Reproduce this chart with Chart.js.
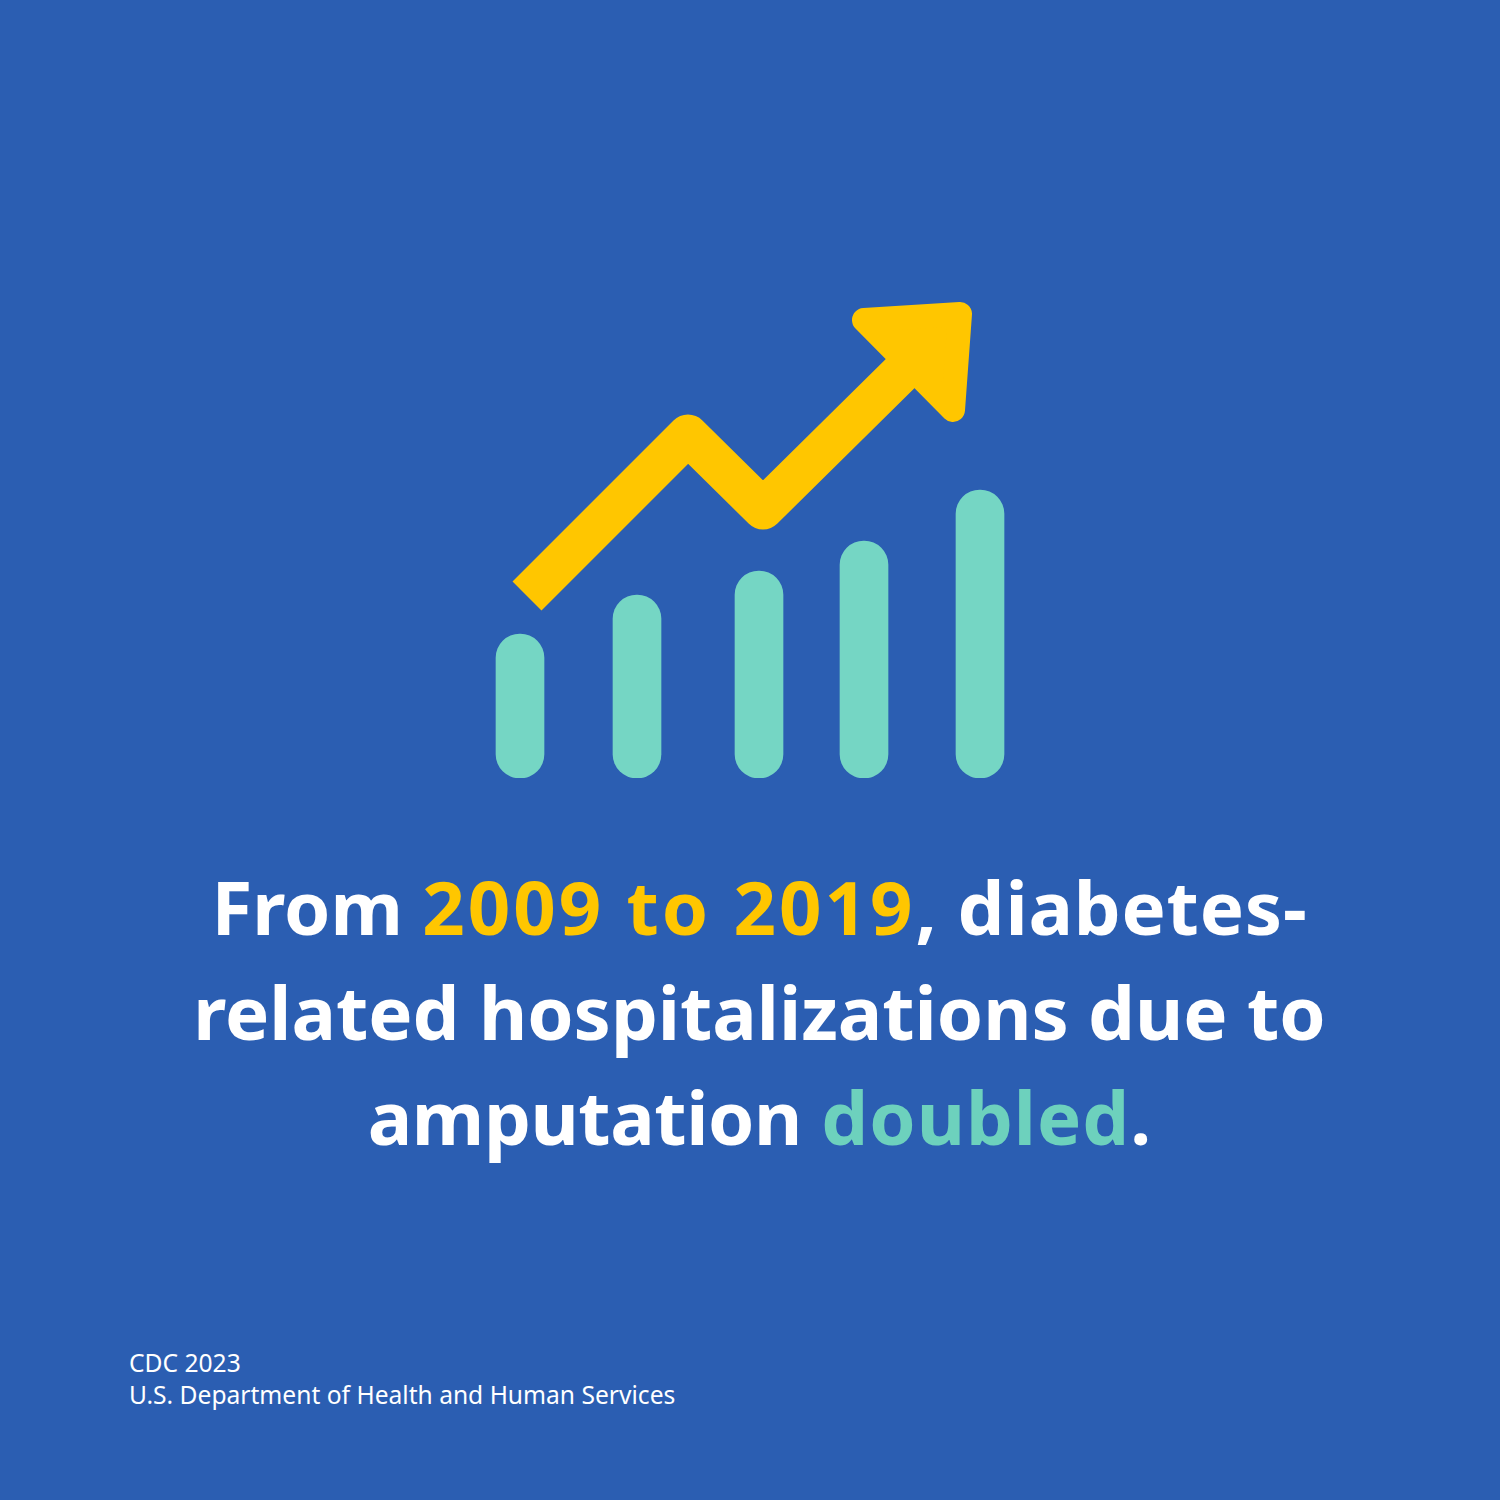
<!DOCTYPE html>
<html lang="en">
<head>
    <meta charset="UTF-8">
    <title>Diabetes-related hospitalizations</title>
    <style>
        html, body { margin: 0; padding: 0; background: #2b5eb2; }
        #page { position: relative; width: 1500px; height: 1500px; overflow: hidden; background: #2b5eb2; }
        #icon { position: absolute; left: 480px; top: 290px; width: 540px; height: 488px; }
        #headline {
            position: absolute; left: 0; top: 854px; width: 1519px; text-align: center;
            font: 700 74.3px/105px "Noto Sans", sans-serif; color: #fff; white-space: nowrap;
        }
        #source {
            position: absolute; left: 129px; top: 1347px;
            font: 400 24.6px/32px "Noto Sans", sans-serif; color: #fff; white-space: nowrap;
        }
        .yellow { color: #ffc600; letter-spacing: 3px; }
        .wide { letter-spacing: 0.8px; }
        .tight { letter-spacing: -0.4px; }
        .teal { color: #6dd1bd; letter-spacing: 1px; }
    </style>
</head>
<body>
<script src="https://cdn.jsdelivr.net/npm/chart.js"></script>
<div id="page">
    <div id="icon"><canvas id="chart"></canvas></div>
    <div id="headline">
        From <span class="yellow">2009 to 2019</span><span class="wide">, diabetes-</span><br>
        related hospitalizations due to<br>
        <span class="tight">amputation</span> <span class="teal">doubled</span>.
    </div>
    <div id="source">CDC 2023<br>U.S. Department of Health and Human Services</div>
</div>
<script>
    const barX = [40, 157, 279, 384, 500];
    const barValues = [144, 183, 207, 237, 288];

    const trendX = [47, 208, 283, 440];
    const trendY = [182, 343, 269, 424];

    const arrowX = [384, 480, 473, 384];
    const arrowY = [458, 464, 368, 458];

    const toPoints = (xs, ys) => xs.map((x, i) => ({ x: x, y: ys[i] }));

    const yellow = '#ffc600';
    const teal = '#75d6c4';

    new Chart(document.getElementById('chart'), {
        type: 'bar',
        data: {
            datasets: [
                {
                    type: 'scatter',
                    label: 'Trend',
                    data: toPoints(trendX, trendY),
                    showLine: true,
                    borderColor: yellow,
                    borderWidth: 41,
                    borderJoinStyle: 'round',
                    borderCapStyle: 'butt',
                    pointRadius: 0,
                    clip: false,
                    order: 2
                },
                {
                    type: 'scatter',
                    label: 'Arrow head',
                    data: toPoints(arrowX, arrowY),
                    showLine: true,
                    fill: 'shape',
                    backgroundColor: yellow,
                    borderColor: yellow,
                    borderWidth: 24,
                    borderJoinStyle: 'round',
                    borderCapStyle: 'round',
                    pointRadius: 0,
                    clip: false,
                    order: 1
                },
                {
                    label: 'Bars',
                    data: toPoints(barX, barValues),
                    backgroundColor: teal,
                    barThickness: 48,
                    borderRadius: 24,
                    borderSkipped: false,
                    order: 3
                }
            ]
        },
        options: {
            responsive: true,
            maintainAspectRatio: false,
            animation: false,
            layout: { padding: 0 },
            plugins: { legend: { display: false }, title: { display: false }, tooltip: { enabled: false } },
            scales: {
                x: { type: 'linear', min: 0, max: 540, offset: false, display: false },
                y: { type: 'linear', min: 0, max: 488, display: false }
            }
        }
    });
</script>
</body>
</html>
